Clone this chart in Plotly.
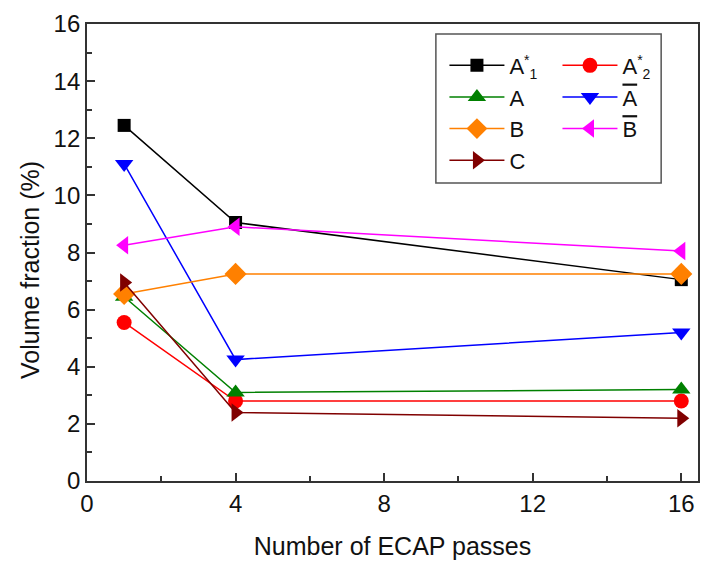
import plotly.graph_objects as go

# ECAP pass counts and volume fractions (%) of each constituent
passes = [1, 4, 16]
a1_star = [12.45, 9.05, 7.05]
a2_star = [5.55, 2.8, 2.8]
a_plain = [6.45, 3.1, 3.2]
a_bar = [11.1, 4.25, 5.2]
b_plain = [6.55, 7.25, 7.25]
b_bar = [8.25, 8.9, 8.05]
c_plain = [6.95, 2.4, 2.2]

small = "<span style='font-size:14px'>{}</span>"
overline = "<span style='text-decoration:overline'>{}</span>"

series = [
    ("A<sup>" + small.format("*") + "</sup><sub>" + small.format("1") + "</sub>",
     a1_star, "#000000", "square", 13, "legend"),
    ("A<sup>" + small.format("*") + "</sup><sub>" + small.format("2") + "</sub>",
     a2_star, "#FF0000", "circle", 15, "legend2"),
    ("A", a_plain, "#008000", "triangle-up", 16, "legend"),
    (overline.format("A"), a_bar, "#0000FF", "triangle-down", 16, "legend2"),
    ("B", b_plain, "#FF8000", "diamond", 17, "legend"),
    (overline.format("B"), b_bar, "#FF00FF", "triangle-left", 16, "legend2"),
    ("C", c_plain, "#800000", "triangle-right", 16, "legend"),
]

fig = go.Figure()
for name, vals, color, sym, size, leg in series:
    fig.add_trace(go.Scatter(
        x=passes, y=vals, name=name, mode="lines+markers",
        line=dict(color=color, width=1.5),
        marker=dict(symbol=sym, size=size, color=color),
        legend=leg,
    ))

font = "Liberation Sans, Arial, sans-serif"
axis_common = dict(
    showline=True, linecolor="#333333", linewidth=1.8, mirror=True,
    ticks="inside", ticklen=8, tickwidth=1.5, tickcolor="#333333",
    showgrid=False, zeroline=False,
    tickfont=dict(family=font, size=24, color="#111111"),
)

fig.update_layout(
    width=703, height=563,
    margin=dict(l=87, r=3, t=24, b=82),
    paper_bgcolor="white", plot_bgcolor="white",
    font=dict(family=font, color="#111111"),
    xaxis=dict(
        range=[0, 16.45], dtick=4, tick0=0,
        minor=dict(ticks="inside", ticklen=5, dtick=2, tickcolor="#333333", tickwidth=1.5),
        title=dict(text="Number of ECAP passes", font=dict(family=font, size=25), standoff=22),
        **axis_common,
    ),
    yaxis=dict(
        range=[0, 16], dtick=2, tick0=0,
        minor=dict(ticks="inside", ticklen=5, dtick=1, tickcolor="#333333", tickwidth=1.5),
        **axis_common,
    ),
    annotations=[dict(
        text="Volume fraction (%)", textangle=-90, showarrow=False,
        xref="paper", yref="paper", x=-0.093, y=0.462,
        xanchor="center", yanchor="middle",
        font=dict(family=font, size=25, color="#111111"),
    )],
    legend=dict(
        x=0.585, y=0.955, xanchor="left", yanchor="top",
        bgcolor="rgba(0,0,0,0)", itemwidth=55, tracegroupgap=0,
        font=dict(family=font, size=22, color="#111111"),
    ),
    legend2=dict(
        x=0.77, y=0.955, xanchor="left", yanchor="top",
        bgcolor="rgba(0,0,0,0)", itemwidth=55, tracegroupgap=0,
        font=dict(family=font, size=22, color="#111111"),
    ),
    shapes=[dict(
        type="rect", xref="paper", yref="paper",
        x0=0.571, x1=0.9397, y0=0.652, y1=0.978,
        line=dict(color="#555555", width=1.5), fillcolor="rgba(0,0,0,0)",
    )],
)

fig.write_html("out.html")
